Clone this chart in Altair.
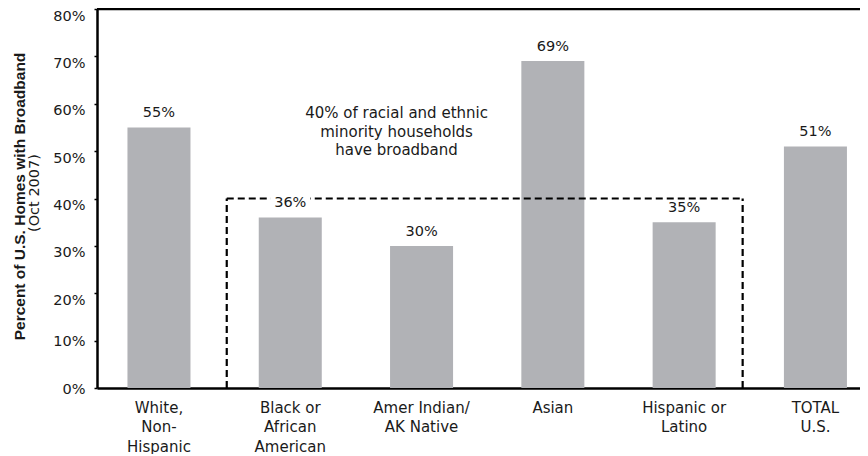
import altair as alt
import pandas as pd

categories = ["White,|Non-|Hispanic", "Black or|African|American", "Amer Indian/|AK Native",
              "Asian", "Hispanic or|Latino", "TOTAL|    U.S."]
values = [55, 36, 30, 69, 35, 51]
bar_labels = ["55%", "36%", "30%", "69%", "35%", "51%"]

box_left_cat = "Black or|African|American"
box_right_cat = "Hispanic or|Latino"
box_level = 40
annotation = ["40% of racial and ethnic", "minority households", "have broadband"]

FONT = "DejaVu Sans"
FS = 14.5
BAR = "#B1B2B6"
TXT = "#1a1a1a"

df = pd.DataFrame({"cat": categories, "val": values, "lab": bar_labels})

W, H = 763, 379

xscale = alt.Scale(domain=categories, paddingInner=0.52, paddingOuter=0.1657, align=0.70)
yscale = alt.Scale(domain=[0, 80])

xax = alt.Axis(title=None, labelExpr="split(datum.label, '|')", labelAngle=0,
               labelFont=FONT, labelFontSize=15, labelColor=TXT, labelLineHeight=19.5,
               labelPadding=12, ticks=False, domainColor="#000", domainWidth=2.5,
               labelBaseline="top")
yax = alt.Axis(title="Percent of U.S. Homes with Broadband", values=list(range(0, 81, 10)),
               labelExpr="datum.value + '%'", labelFont=FONT, labelFontSize=FS, labelColor=TXT,
               labelPadding=9, tickSize=3, tickColor="#000", tickWidth=1.5,
               domainColor="#000", domainWidth=2.5, grid=False,
               labelOffset=alt.ConditionalAxisNumber(condition={"test": "datum.value <= 10", "value": 1}, value=7),
               titleFont="Liberation Sans", titleFontSize=15.5, titleFontWeight="bold", titleColor=TXT,
               titleAngle=270, titleX=-78, titleY=187, titleAlign="center", titleBaseline="middle")

base = alt.Chart(df)

bars = base.mark_bar(color=BAR).encode(
    x=alt.X("cat:N", scale=xscale, axis=xax, sort=categories),
    y=alt.Y("val:Q", scale=yscale, axis=yax),
)

label_bg = base.mark_point(shape="M-1,-0.4H1V0.4H-1Z", size=1600, filled=True, color="white",
                           opacity=1, yOffset=-13).encode(
    x=alt.X("cat:N", sort=categories),
    y="val:Q",
)

labels = base.mark_text(font=FONT, fontSize=FS, color=TXT, baseline="bottom", dy=-7).encode(
    x=alt.X("cat:N", sort=categories),
    y="val:Q",
    text="lab:N",
)

box_df = pd.DataFrame({"l": [box_left_cat], "r": [box_right_cat], "lev": [box_level], "zero": [0]})
box = alt.Chart(box_df)
dash = [7, 4]
left_rule = box.mark_rule(strokeDash=dash, strokeWidth=2.2, color="#000", xOffset=-32).encode(
    x=alt.X("l:N", bandPosition=0, sort=categories), y="zero:Q", y2="lev:Q")
right_rule = box.mark_rule(strokeDash=dash, strokeWidth=2.2, color="#000", xOffset=27).encode(
    x=alt.X("r:N", bandPosition=1, sort=categories), y="zero:Q", y2="lev:Q")
top_rule = box.mark_rule(strokeDash=dash, strokeWidth=2.2, color="#000", xOffset=-32, x2Offset=27).encode(
    x=alt.X("l:N", bandPosition=0, sort=categories),
    x2=alt.X2("r:N", bandPosition=1),
    y="lev:Q")

ann_df = pd.DataFrame({"t": [annotation], "cat": ["Amer Indian/|AK Native"], "y": [59.5]})
ann = alt.Chart(ann_df).mark_text(font=FONT, fontSize=15, color=TXT, baseline="top",
                                  lineHeight=18.5, xOffset=-25).encode(
    x=alt.X("cat:N", sort=categories), y="y:Q", text="t")

sub = alt.Chart(pd.DataFrame({"t": ["(Oct 2007)"]})).mark_text(
    font=FONT, fontSize=14.5, color=TXT, angle=270, baseline="middle", align="center").encode(
    x=alt.value(-62), y=alt.value(184), text="t:N")

topline = alt.Chart(pd.DataFrame({"a": [0]})).mark_rule(color="#000", strokeWidth=2.5).encode(
    x=alt.value(0), x2=alt.value(W), y=alt.value(0))

chart = alt.layer(bars, left_rule, right_rule, top_rule, label_bg, labels, ann, sub, topline).properties(
    width=W, height=H,
    autosize=alt.AutoSizeParams(type="none"),
    padding={"left": 89, "top": 1, "right": 0, "bottom": 66},
).configure_view(stroke=None).configure(background="white")

chart.save("out.html", embed_options={"renderer": "svg", "actions": False})
